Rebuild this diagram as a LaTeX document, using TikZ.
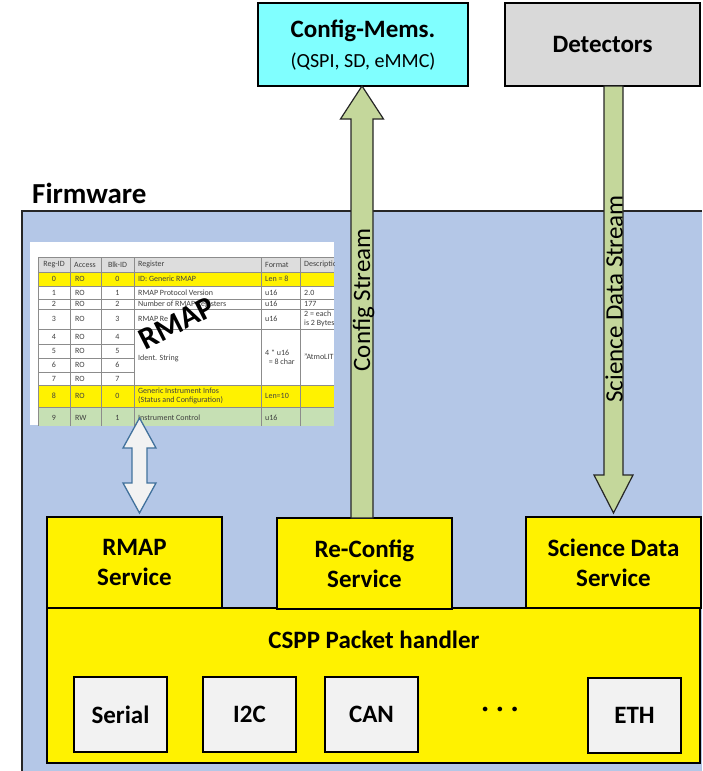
\documentclass[tikz,border=0pt]{standalone}
\usepackage{fontspec}
\setmainfont{Carlito}
\definecolor{fwblue}{HTML}{B4C7E7}
\definecolor{memcyan}{HTML}{80FFFF}
\definecolor{detgray}{HTML}{D9D9D9}
\definecolor{boxgray}{HTML}{F2F2F2}
\definecolor{streamgreen}{HTML}{C4D79B}
\definecolor{dblblue}{HTML}{41719C}
\definecolor{hdrgray}{HTML}{DDDDDD}
\definecolor{rowgreen}{HTML}{C6E0B4}
\definecolor{gridgray}{HTML}{8C8C8C}
\definecolor{celltext}{HTML}{404040}
\tikzset{
  bigfont/.style={font=\bfseries\fontsize{25}{30}\selectfont},
  box/.style={draw=black, line width=1.5pt, inner sep=0pt, align=center},
  service/.style={box, fill=yellow, minimum width=175pt, minimum height=91pt, bigfont},
  port/.style={box, fill=boxgray, minimum width=93pt, minimum height=75pt, bigfont},
  stream/.style={fill=streamgreen, draw=black!85, line width=1.2pt, line join=miter},
  streamlabel/.style={font=\fontsize{25}{30}\selectfont, rotate=90, anchor=base, inner sep=0pt},
  cell/.style={font=\fontsize{8}{9.5}\selectfont, text=celltext, inner sep=0pt, align=left},
  cellc/.style={cell, anchor=center},
  celll/.style={cell, anchor=west},
}
\begin{document}
\begin{tikzpicture}[x=1pt,y=-1pt]
\useasboundingbox (0,0) rectangle (702,771);

% external units
\node[box, fill=memcyan, minimum width=210pt, minimum height=83pt] (cfgmem) at (363,44.5) {};
\node[bigfont] (cfgmemtitle) at (363,31) {Config-Mems.};
\node[font=\fontsize{20}{24}\selectfont] (cfgmemsub) at (363,62) {(QSPI, SD, eMMC)};
\node[box, fill=detgray, minimum width=195pt, minimum height=83pt, bigfont] (det) at (602.5,44.5) {Detectors};

% firmware frame
\fill[fwblue] (22,211) rectangle (702,771);
\draw[line width=1.5pt, black!85] (702,211) -- (22,211) -- (22,771);
\node[font=\bfseries\fontsize{29}{32}\selectfont, anchor=base west, inner sep=0pt] (fwlabel) at (32,203) {Firmware};

% RMAP register table
\begin{scope}
  \clip (30,242) rectangle (334,425);
  \fill[white] (30,242) rectangle (334,425);
  \fill[hdrgray] (38,257) rectangle (334,272);
  \fill[yellow] (38,272) rectangle (334,286);
  \fill[yellow] (38,385) rectangle (334,407);
  \fill[rowgreen] (38,407) rectangle (334,432);
  \begin{scope}[draw=gridgray, line width=0.6pt]
    \foreach \ry in {257,272,286,299,309,329,385,407}
      \draw (38,\ry) -- (334,\ry);
    \foreach \ry in {344,358,372}
      \draw (38,\ry) -- (134,\ry);
    \foreach \cx in {38,70,101,134,261,300}
      \draw (\cx,257) -- (\cx,432);
  \end{scope}
  % header
  \node[cellc] (h1) at (54,264.5) {Reg-ID};
  \node[celll] (h2) at (74,264.5) {Access};
  \node[cellc] (h3) at (117.5,264.5) {Blk-ID};
  \node[celll] (h4) at (138,264.5) {Register};
  \node[celll] (h5) at (265,264.5) {Format};
  \node[celll] (h6) at (304,264.5) {Description};
  % rows
  \foreach \ry/\rid/\acc/\blk in {279/0/RO/0, 292.5/1/RO/1, 304/2/RO/2, 319/3/RO/3,
      336.5/4/RO/4, 351/5/RO/5, 365/6/RO/6, 378.5/7/RO/7, 396/8/RO/0, 418/9/RW/1} {
    \node[cellc] (rid\rid) at (54,\ry) {\rid};
    \node[celll] (acc\rid) at (75,\ry) {\acc};
    \node[cellc] (blk\rid) at (117.5,\ry) {\blk};
  }
  \node[celll] (reg0) at (138,279) {ID: Generic RMAP};
  \node[celll] (fmt0) at (265,279) {Len = 8};
  \node[celll] (reg1) at (138,292.5) {RMAP Protocol Version};
  \node[celll] (fmt1) at (265,292.5) {u16};
  \node[celll] (dsc1) at (304,292.5) {2.0};
  \node[celll] (reg2) at (138,304) {Number of RMAP Registers};
  \node[celll] (fmt2) at (265,304) {u16};
  \node[celll] (dsc2) at (304,304) {177};
  \node[celll] (reg3) at (138,319) {RMAP Re};
  \node[celll] (fmt3) at (265,319) {u16};
  \node[celll] (dsc3) at (304,319) {2 = each\\is 2 Bytes};
  \node[celll] (reg4) at (138,358) {Ident. String};
  \node[celll] (fmt4) at (265,357) {4 * u16\\\ \ = 8 char};
  \node[celll] (dsc4) at (304,357) {"AtmoLIT};
  \node[celll] (reg8) at (138,396) {Generic Instrument Infos\\(Status and Configuration)};
  \node[celll] (fmt8) at (265,396) {Len=10};
  \node[celll] (reg9) at (138,418) {Instrument Control};
  \node[celll] (fmt9) at (265,418) {u16};
\end{scope}
\node[rotate=27, font=\bfseries\fontsize{31}{34}\selectfont, inner sep=0pt] (rmapbig) at (177,323) {RMAP};

% packet handler and services
\node[box, fill=yellow, minimum width=653pt, minimum height=155pt] (cspp) at (373.5,685.5) {};
\node[bigfont] (cspptitle) at (374,640) {CSPP Packet handler};
\node[service] (rmapsvc) at (134.5,562.5) {RMAP\\Service};
\node[service] (reconf) at (364.5,563.5) {Re-Config\\Service};
\node[service] (scisvc) at (613.5,562.5) {Science Data\\Service};

\node[port] (serial) at (120.5,714.5) {Serial};
\node[port] (itc) at (249.5,714.5) {I2C};
\node[port] (can) at (371.5,714.5) {CAN};
\node[bigfont] (dots) at (500,712) {·\hspace{8pt}·\hspace{8pt}·};
\node[port] (eth) at (634.5,715.5) {ETH};

% bidirectional arrow between table and RMAP service
\coordinate (dbltop) at (139.5,418);
\coordinate (dblbot) at (139.5,513);
\draw[fill=boxgray, draw=dblblue, line width=1.3pt, line join=miter]
  (dbltop) -- ++(16.5,30) -- ++(-9,0) -- ++(0,35) -- ++(9,0) -- (dblbot)
  -- ++(-16.5,-30) -- ++(9,0) -- ++(0,-35) -- ++(-9,0) -- cycle;

% configuration stream (up)
\coordinate (cfgtip) at (362,86);
\coordinate (cfgfoot) at (362,518);
\draw[stream] (cfgtip) -- ++(21.5,33) -- ++(-10.5,0) -- ++(0,399) -- ++(-22,0)
  -- ++(0,-399) -- ++(-10.5,0) -- cycle;
\node[streamlabel] (cfglabel) at (370,300) {Config Stream};

% science data stream (down)
\coordinate (scitop) at (613.5,86);
\coordinate (scitip) at (613.5,513);
\draw[stream] (scitip) -- ++(19.5,-38) -- ++(-10,0) -- ++(0,-389) -- ++(-19,0)
  -- ++(0,389) -- ++(-10,0) -- cycle;
\node[streamlabel] (scilabel) at (622.5,299) {Science Data Stream};
\end{tikzpicture}
\end{document}
